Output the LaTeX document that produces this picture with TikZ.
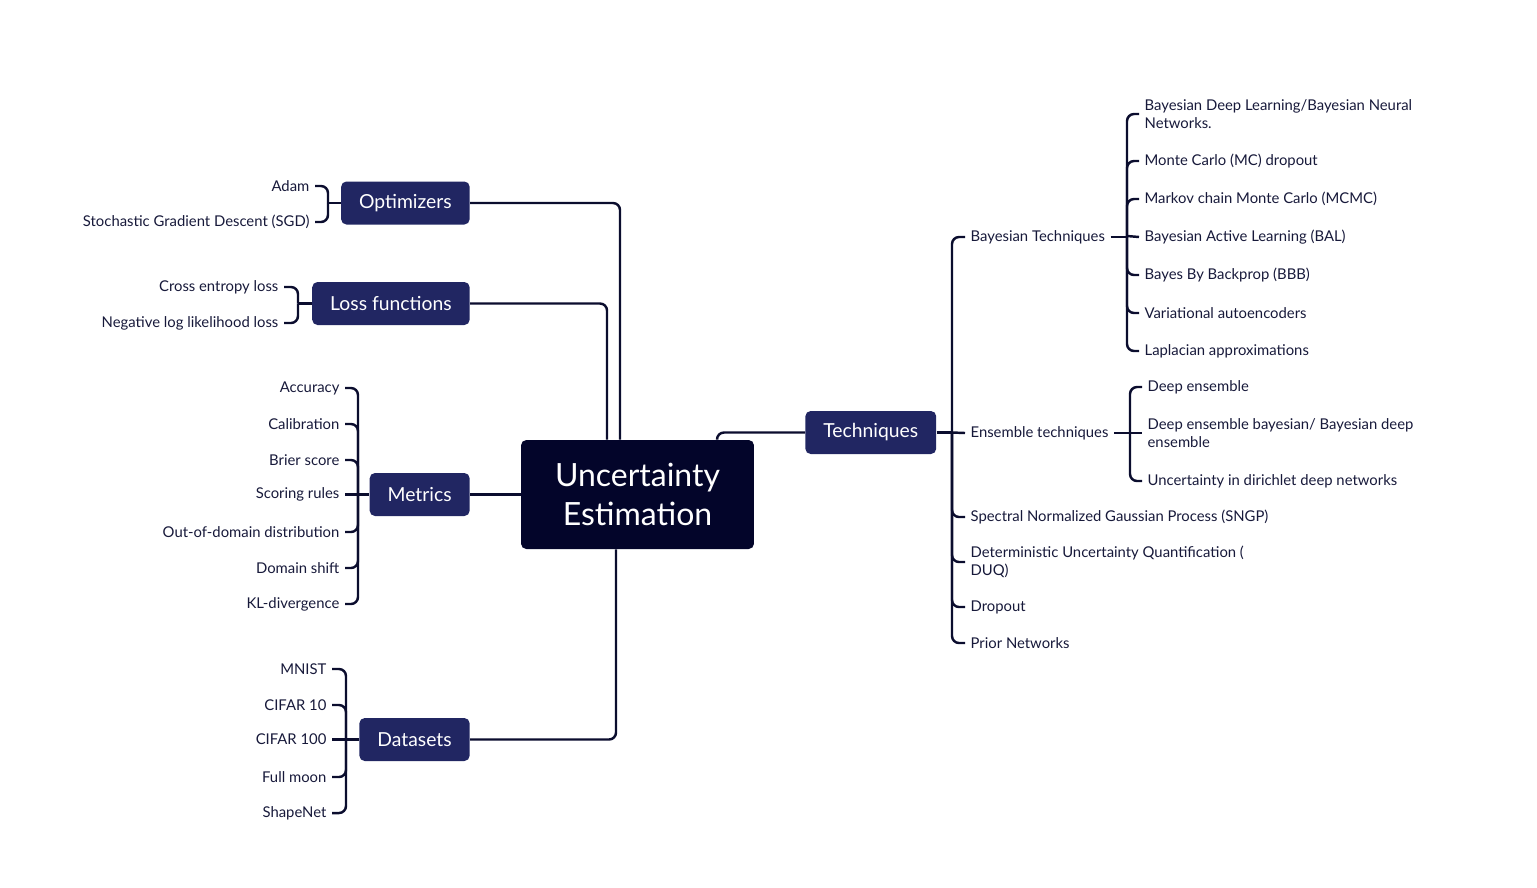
\documentclass[tikz,border=0pt]{standalone}
\usepackage{fontspec}
\setmainfont{Lato}
\definecolor{ink}{HTML}{03052A}
\definecolor{navy}{HTML}{212662}
\definecolor{ln}{HTML}{0B0D2E}
\definecolor{txt}{HTML}{17193A}

\begin{document}
\begin{tikzpicture}[x=0.02cm, y=-0.02cm,
    hub/.style={fill=ink, text=white, rounded corners=3pt, minimum width=4.66cm, minimum height=2.18cm, align=center, font=\fontsize{18.2}{22.7}\selectfont},
    topic/.style={fill=navy, text=white, rounded corners=3pt, minimum height=0.86cm, inner xsep=0.36cm, font=\fontsize{11}{13}\selectfont},
    leaf/.style={text=txt, inner xsep=3pt, inner ysep=1pt, align=left, font=\fontsize{8.45}{10.2}\selectfont},
    link/.style={draw=ln, line width=1.4pt, rounded corners=4pt}]
    \useasboundingbox (0,0) rectangle (1537,887);

    % centre and main branches
    \node (c) at (637.5,494.5) [hub] {Uncertainty\\Estimation};
    \node (b1) at (470,203) [topic, anchor=east] {Optimizers};
    \node (b2) at (470,303.5) [topic, anchor=east] {Loss functions};
    \node (b3) at (470,494.5) [topic, anchor=east] {Metrics};
    \node (b4) at (470,739.5) [topic, anchor=east] {Datasets};
    \node (b5) at (805,432.5) [topic, anchor=west] {Techniques};

    \draw [link] (b1.east) -| ([xshift=-0.35cm]c.north);
    \draw [link] (b2.east) -| ([xshift=-0.61cm]c.north);
    \draw [link] (b3.east) -- (c.west);
    \draw [link] (b4.east) -| ([xshift=-0.43cm]c.south);
    \draw [link] (b5.west) -| ([xshift=1.59cm]c.north);

    % junctions
    \coordinate (j1) at (328,203);
    \coordinate (j2) at (298,303.5);
    \coordinate (j3) at (358,494.5);
    \coordinate (j4) at (346,739.5);
    \coordinate (j5) at (952,432.5);
    \coordinate (j6) at (1127,236);
    \coordinate (j7) at (1130,433);

    % optimizers
    \node (o1) at (315,186) [leaf, anchor=east] {Adam};
    \node (o2) at (315,222) [leaf, anchor=east] {Stochastic Gradient Descent (SGD)};
    \draw [link] (j1) -- (b1.west);
    \draw [link] (j1) |- (o1.east);
    \draw [link] (j1) |- (o2.east);

    % loss functions
    \node (l1) at (284,287) [leaf, anchor=east] {Cross entropy loss};
    \node (l2) at (284,323) [leaf, anchor=east] {Negative log likelihood loss};
    \draw [link] (j2) -- (b2.west);
    \draw [link] (j2) |- (l1.east);
    \draw [link] (j2) |- (l2.east);

    % metrics
    \node (m1) at (345,388) [leaf, anchor=east] {Accuracy};
    \node (m2) at (345,424) [leaf, anchor=east] {Calibration};
    \node (m3) at (345,460) [leaf, anchor=east] {Brier score};
    \node (m4) at (345,494.5) [leaf, anchor=east] {Scoring rules};
    \node (m5) at (345,532) [leaf, anchor=east] {Out-of-domain distribution};
    \node (m6) at (345,568) [leaf, anchor=east] {Domain shift};
    \node (m7) at (345,604) [leaf, anchor=east] {KL-divergence};
    \draw [link] (j3) -- (b3.west);
    \draw [link] (j3) |- (m1.east);
    \draw [link] (j3) |- (m2.east);
    \draw [link] (j3) |- (m3.east);
    \draw [link] (m4.east) -- (j3);
    \draw [link] (j3) |- (m5.east);
    \draw [link] (j3) |- (m6.east);
    \draw [link] (j3) |- (m7.east);

    % datasets
    \node (d1) at (332,669) [leaf, anchor=east] {MNIST};
    \node (d2) at (332,705) [leaf, anchor=east] {CIFAR 10};
    \node (d3) at (332,739.5) [leaf, anchor=east] {CIFAR 100};
    \node (d4) at (332,777) [leaf, anchor=east] {Full moon};
    \node (d5) at (332,813) [leaf, anchor=east] {ShapeNet};
    \draw [link] (j4) -- (b4.west);
    \draw [link] (j4) |- (d1.east);
    \draw [link] (j4) |- (d2.east);
    \draw [link] (d3.east) -- (j4);
    \draw [link] (j4) |- (d4.east);
    \draw [link] (j4) |- (d5.east);

    % techniques
    \node (t1) at (965,237) [leaf, anchor=west] {Bayesian Techniques};
    \node (t2) at (965,433) [leaf, anchor=west] {Ensemble techniques};
    \node (t3) at (965,517) [leaf, anchor=west] {Spectral Normalized Gaussian Process (SNGP)};
    \node (t4) at (965,562) [leaf, anchor=west] {Deterministic Uncertainty Quantification (\\DUQ)};
    \node (t5) at (965,607) [leaf, anchor=west] {Dropout};
    \node (t6) at (965,643) [leaf, anchor=west] {Prior Networks};
    \draw [link] (b5.east) -- (j5);
    \draw [link] (j5) |- (t1.west);
    \draw [link] (j5) -- (t2.west);
    \draw [link] (j5) |- (t3.west);
    \draw [link] (j5) |- (t4.west);
    \draw [link] (j5) |- (t5.west);
    \draw [link] (j5) |- (t6.west);

    % bayesian techniques
    \node (s1) at (1139,114) [leaf, anchor=west] {Bayesian Deep Learning/Bayesian Neural\\Networks.};
    \node (s2) at (1139,161) [leaf, anchor=west] {Monte Carlo (MC) dropout};
    \node (s3) at (1139,199) [leaf, anchor=west] {Markov chain Monte Carlo (MCMC)};
    \node (s4) at (1139,237) [leaf, anchor=west] {Bayesian Active Learning (BAL)};
    \node (s5) at (1139,275) [leaf, anchor=west] {Bayes By Backprop (BBB)};
    \node (s6) at (1139,313) [leaf, anchor=west] {Variational autoencoders};
    \node (s7) at (1139,351) [leaf, anchor=west] {Laplacian approximations};
    \draw [link] (t1.east) -- (j6 |- t1.east);
    \draw [link] (j6) |- (s1.west);
    \draw [link] (j6) |- (s2.west);
    \draw [link] (j6) |- (s3.west);
    \draw [link] (j6) -- (s4.west);
    \draw [link] (j6) |- (s5.west);
    \draw [link] (j6) |- (s6.west);
    \draw [link] (j6) |- (s7.west);

    % ensemble techniques
    \node (e1) at (1142,387) [leaf, anchor=west] {Deep ensemble};
    \node (e2) at (1142,433) [leaf, anchor=west] {Deep ensemble bayesian/ Bayesian deep\\ensemble};
    \node (e3) at (1142,481) [leaf, anchor=west] {Uncertainty in dirichlet deep networks};
    \draw [link] (t2.east) -- (j7);
    \draw [link] (j7) |- (e1.west);
    \draw [link] (j7) -- (e2.west);
    \draw [link] (j7) |- (e3.west);
\end{tikzpicture}
\end{document}
